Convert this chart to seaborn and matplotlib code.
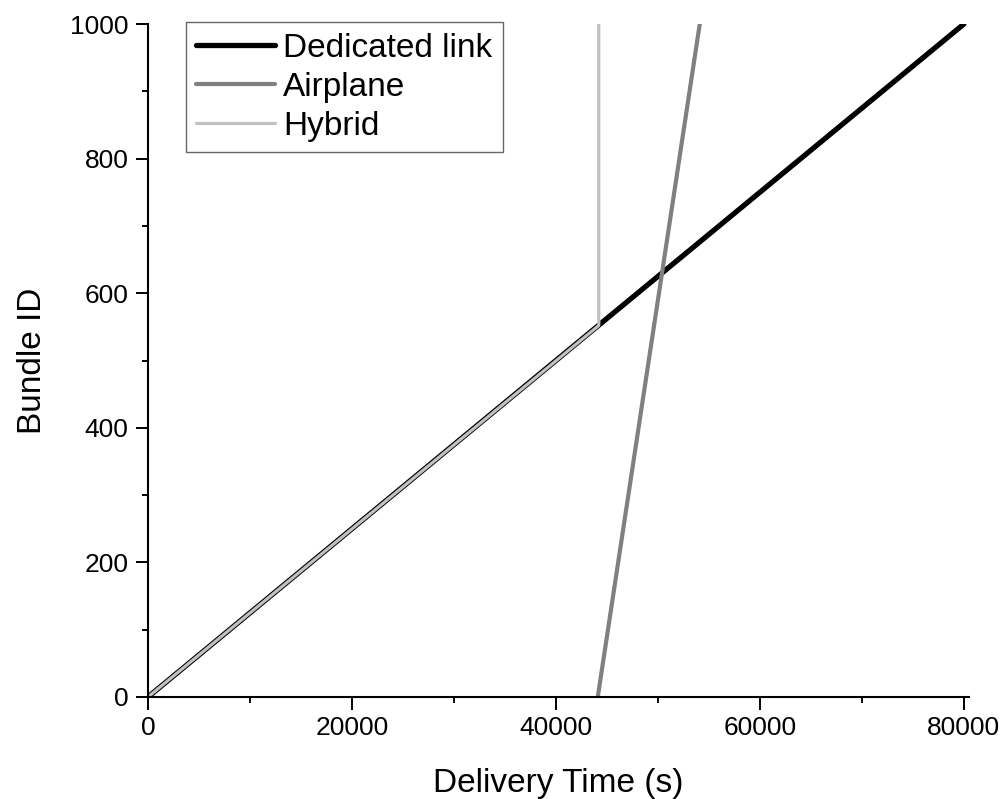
import matplotlib
matplotlib.use("Agg")
import matplotlib.pyplot as plt
from matplotlib.ticker import MultipleLocator
import seaborn as sns
import pandas as pd

# Data
dedicated_x = [0, 80000]
dedicated_y = [0, 1000]
airplane_x = [44100, 54100]
airplane_y = [0, 1000]
hybrid_x = [0, 44200, 44200]
hybrid_y = [0, 552, 1000]

series_names = ["Dedicated link", "Airplane", "Hybrid"]
x_ticks = [0, 20000, 40000, 60000, 80000]
y_ticks = [0, 200, 400, 600, 800, 1000]

sns.set_theme(style="ticks")
plt.rcParams['font.family'] = ['Liberation Sans', 'DejaVu Sans']
plt.rcParams['text.color'] = 'black'
plt.rcParams['axes.labelcolor'] = 'black'
plt.rcParams['xtick.color'] = 'black'
plt.rcParams['ytick.color'] = 'black'

fig = plt.figure(figsize=(10.05, 7.99), dpi=100)
ax = fig.add_axes([148/1005, 1 - 697/799, (969-148)/1005, (697-24)/799])

styles = {
    "Dedicated link": dict(color="#000000", lw=3.8),
    "Airplane": dict(color="#808080", lw=3.0),
    "Hybrid": dict(color="#c0c0c0", lw=2.3),
}
data = {
    "Dedicated link": (dedicated_x, dedicated_y),
    "Airplane": (airplane_x, airplane_y),
    "Hybrid": (hybrid_x, hybrid_y),
}
for name in series_names:
    xs, ys = data[name]
    df = pd.DataFrame({"x": xs, "y": ys})
    sns.lineplot(data=df, x="x", y="y", sort=False, estimator=None, ax=ax,
                 label=name, solid_capstyle="round", **styles[name])

ax.set_xlim(0, 80500)
ax.set_ylim(0, 1000)
ax.set_xticks(x_ticks)
ax.set_yticks(y_ticks)
ax.xaxis.set_minor_locator(MultipleLocator(10000))
ax.yaxis.set_minor_locator(MultipleLocator(100))
ax.tick_params(which="major", direction="out", length=9, width=1.4, labelsize=19,
               colors="black", labelcolor="black", pad=5)
ax.tick_params(which="minor", direction="out", length=4.5, width=1.4, colors="black")
for s in ["top", "right"]:
    ax.spines[s].set_visible(False)
for s in ["left", "bottom"]:
    ax.spines[s].set_linewidth(1.5)
    ax.spines[s].set_color("black")

ax.set_xlabel("Delivery Time (s)", fontsize=24, labelpad=20, color="black")
ax.set_ylabel("Bundle ID", fontsize=24, labelpad=16, color="black")

leg = ax.legend(loc="upper left", bbox_to_anchor=(0.046, 1.003), fontsize=24,
                frameon=True, fancybox=False, edgecolor="#404040",
                handlelength=2.35, handletextpad=0.25, labelspacing=0.24,
                borderpad=0.32, borderaxespad=0)
leg.get_frame().set_linewidth(1.0)
for t in leg.get_texts():
    t.set_color("black")

fig.savefig("out.png", dpi=100, facecolor="white")
